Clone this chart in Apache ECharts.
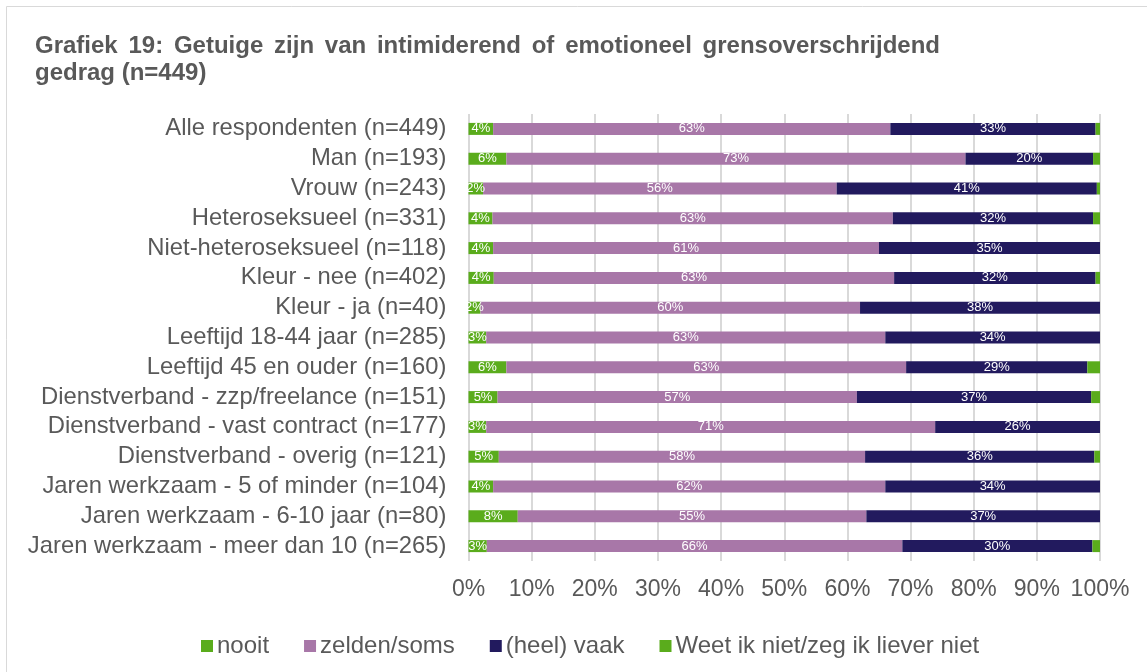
<!DOCTYPE html>
<html>
<head>
<meta charset="utf-8">
<script src="https://cdn.jsdelivr.net/npm/echarts@6/dist/echarts.min.js"></script>
<style>
html, body { margin: 0; padding: 0; background: #fff; }
#chart { width: 1147px; height: 672px; }
</style>
</head>
<body>
<div id="chart"></div>
<script>
var categories = [
	'Alle respondenten (n=449)',
	'Man (n=193)',
	'Vrouw (n=243)',
	'Heteroseksueel (n=331)',
	'Niet-heteroseksueel (n=118)',
	'Kleur - nee (n=402)',
	'Kleur - ja (n=40)',
	'Leeftijd 18-44 jaar (n=285)',
	'Leeftijd 45 en ouder (n=160)',
	'Dienstverband - zzp/freelance (n=151)',
	'Dienstverband - vast contract (n=177)',
	'Dienstverband - overig (n=121)',
	'Jaren werkzaam - 5 of minder (n=104)',
	'Jaren werkzaam - 6-10 jaar (n=80)',
	'Jaren werkzaam - meer dan 10 (n=265)'
];
var seriesNames = ['nooit', 'zelden/soms', '(heel) vaak', 'Weet ik niet/zeg ik liever niet'];
var nooit   = [3.9, 6.0, 2.3, 3.8, 3.9, 4.0, 1.9, 2.8, 6.0, 4.6, 2.8, 4.8, 3.9, 7.8, 2.9];
var zelden  = [62.9, 72.7, 56.0, 63.4, 61.1, 63.4, 60.1, 63.2, 63.3, 56.9, 71.1, 58.0, 62.1, 55.2, 65.8];
var vaak    = [32.5, 20.2, 41.2, 31.7, 35.0, 31.9, 38.0, 34.0, 28.7, 37.1, 26.1, 36.3, 34.0, 37.0, 30.1];
var weetNiet = [0.7, 1.1, 0.5, 1.1, 0, 0.7, 0, 0, 2.0, 1.4, 0, 0.9, 0, 0, 1.2];
var xTicks = [0, 10, 20, 30, 40, 50, 60, 70, 80, 90, 100];
var titleLine1 = 'Grafiek 19: Getuige zijn van intimiderend of emotioneel grensoverschrijdend';
var titleLine2 = 'gedrag (n=449)';

var C_COLORS = ['#5aac1c', '#a877a8', '#221a5e', '#5aac1c'];
var FONT = '"Liberation Sans", Arial, sans-serif';
var TEXT_GRAY = '#595959';

// eerste titelregel uitvullen zoals in Word/Excel
function buildJustifiedTitle(text, left, right, y) {
	var font = 'bold 24px ' + FONT;
	var ctx = document.createElement('canvas').getContext('2d');
	ctx.font = font;
	var words = text.split(' ');
	var widths = words.map(function(w) { return ctx.measureText(w).width; });
	var total = widths.reduce(function(a, b) { return a + b; }, 0);
	var gap = (right - left - total) / (words.length - 1);
	var elems = [];
	var x = left;
	for (var i = 0; i < words.length; i++) {
		elems.push({
			type: 'text',
			x: x,
			y: y,
			style: { text: words[i], font: font, fill: TEXT_GRAY, verticalAlign: 'middle' }
		});
		x += widths[i] + gap;
	}
	return elems;
}

function getSeries(name, data, color, withLabel) {
	return {
		name: name,
		type: 'bar',
		stack: 'totaal',
		barWidth: 12,
		itemStyle: { color: color },
		label: {
			show: withLabel,
			position: 'inside',
			color: '#ffffff',
			fontSize: 13,
			fontFamily: FONT,
			formatter: function(p) { return Math.round(p.value) + '%'; }
		},
		emphasis: { disabled: true },
		data: data
	};
}

var graphicElems = buildJustifiedTitle(titleLine1, 35, 940, 46);
graphicElems.push({
	type: 'text',
	x: 35,
	y: 73,
	style: { text: titleLine2, font: 'bold 24px ' + FONT, fill: TEXT_GRAY, verticalAlign: 'middle' }
});
graphicElems.push({
	type: 'rect',
	shape: { x: 6.5, y: 6.5, width: 1200, height: 700 },
	style: { fill: 'none', stroke: '#d9d9d9', lineWidth: 1 },
	z: -1
});

var chart = echarts.init(document.getElementById('chart'));
chart.setOption({
	animation: false,
	textStyle: { fontFamily: FONT },
	graphic: graphicElems,
	legend: {
		left: 196,
		top: 629,
		icon: 'rect',
		itemWidth: 12,
		itemHeight: 12,
		itemGap: 35,
		textStyle: { fontSize: 24, color: TEXT_GRAY, fontFamily: FONT, padding: [0, 0, 0, -1] },
		data: seriesNames
	},
	grid: {
		left: 468.5,
		right: 47,
		top: 114,
		bottom: 111,
		containLabel: false
	},
	xAxis: {
		type: 'value',
		min: 0,
		max: 100,
		interval: 10,
		axisLine: { show: false },
		axisTick: { show: false },
		splitLine: { lineStyle: { color: '#d9d9d9', width: 2 } },
		axisLabel: {
			margin: 17,
			fontSize: 23,
			color: TEXT_GRAY,
			formatter: function(v) { return xTicks.indexOf(v) >= 0 ? v + '%' : ''; }
		}
	},
	yAxis: {
		type: 'category',
		inverse: true,
		data: categories,
		axisLine: { show: false },
		axisTick: { show: false },
		axisLabel: { interval: 0, margin: 22, fontSize: 23.8, color: TEXT_GRAY }
	},
	series: [
		getSeries(seriesNames[0], nooit, C_COLORS[0], true),
		getSeries(seriesNames[1], zelden, C_COLORS[1], true),
		getSeries(seriesNames[2], vaak, C_COLORS[2], true),
		getSeries(seriesNames[3], weetNiet, C_COLORS[3], false)
	]
});
</script>
</body>
</html>
